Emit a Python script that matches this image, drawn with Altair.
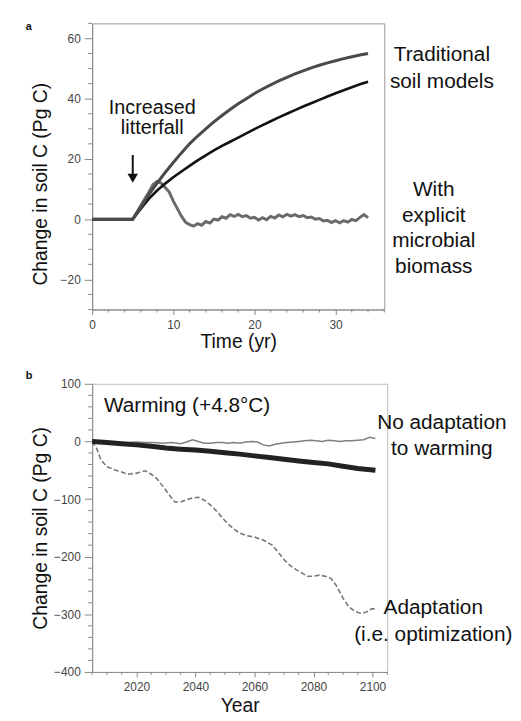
import altair as alt
import pandas as pd

FONT = "Liberation Sans"

# ---------------- Panel a data ----------------
t_trad = [0, 5, 6, 7, 8, 9, 10, 11, 12, 13, 14, 15, 16, 17, 18, 19, 20, 21, 22, 23, 24,
          25, 26, 27, 28, 29, 30, 31, 32, 33, 34]
trad_upper = [0, 0, 4.0, 8.2, 12.0, 15.5, 18.8, 22.0, 25.0, 27.6, 30.0, 32.3, 34.4, 36.4,
              38.3, 40.0, 41.7, 43.2, 44.6, 45.9, 47.1, 48.2, 49.2, 50.2, 51.1, 51.9, 52.6,
              53.3, 53.9, 54.5, 55.0]
trad_lower = [0, 0, 3.5, 6.8, 9.5, 11.8, 13.9, 15.8, 17.7, 19.5, 21.2, 22.8, 24.3, 25.7,
              27.1, 28.5, 29.9, 31.2, 32.5, 33.8, 35.0, 36.2, 37.4, 38.5, 39.6, 40.7, 41.8,
              42.8, 43.8, 44.8, 45.6]
t_mic = [0, 5, 6, 7, 7.5, 8, 8.5, 9, 9.5, 10, 10.5, 11, 11.5, 12, 12.5, 13, 13.5, 14, 14.5,
         15, 15.5, 16, 16.5, 17, 17.5, 18, 18.5, 19, 19.5, 20, 20.5, 21, 21.5, 22, 22.5, 23,
         23.5, 24, 24.5, 25, 25.5, 26, 26.5, 27, 27.5, 28, 28.5, 29, 29.5, 30, 30.5, 31, 31.5,
         32, 32.5, 33, 33.5, 34]
microbial = [0, 0, 4.5, 9.0, 11.5, 12.5, 12.0, 10.5, 9.0, 6.0, 3.5, 1.0, -1.0, -1.8, -2.3,
             -1.5, -2.0, -0.8, -1.3, 0.0, -0.3, 0.8, 0.3, 1.5, 0.9, 1.6, 0.8, 1.2, 0.3, 0.6,
             -0.3, 0.5, -0.2, 0.9, 0.4, 1.4, 0.8, 1.6, 1.0, 1.5, 0.8, 1.2, 0.5, 0.7, 0.0, 0.2,
             -0.6, -0.4, -1.1, -0.5, -1.2, -0.5, -1.0, -0.1, -0.5, 0.6, 1.5, 0.5]

a_x_major = [0, 10, 20, 30]
a_x_minor = [2, 4, 6, 8, 12, 14, 16, 18, 22, 24, 26, 28, 32, 34, 36]
a_y_major = [-20, 0, 20, 40, 60]
a_y_minor = [-30, -25, -15, -10, -5, 5, 10, 15, 25, 30, 35, 45, 50, 55, 65]

arrow_t = [5]
arrow_top = [21.3]
arrow_bottom = [15.0]
arrow_head = [13.6]

ann_a_text = ["Increased", "litterfall", "Traditional", "soil models",
              "With", "explicit", "microbial", "biomass"]
ann_a_x = [7.4, 7.4, 43.1, 43.1, 42.1, 42.1, 42.1, 42.1]
ann_a_y = [34.9, 28.3, 52.5, 43.6, 7.7, -0.8, -9.4, -18.0]
ann_a_size = [20, 20, 21, 21, 21, 21, 21, 21]

# ---------------- Panel b data ----------------
yr_adapt = [2005, 2006.5, 2008, 2010, 2013, 2015, 2017, 2020, 2023, 2025, 2027, 2029, 2031,
            2033, 2035, 2037, 2039, 2041, 2043, 2045, 2047, 2049, 2051, 2053, 2055, 2057,
            2060, 2063, 2066, 2068, 2070, 2072, 2074, 2076, 2078, 2080, 2082, 2084, 2086,
            2088, 2090, 2092, 2094, 2096, 2098, 2099.5, 2101]
adapt = [0, -12, -32, -44, -50, -53, -57, -55, -51, -57, -65, -78, -92, -105, -105, -101,
         -98, -97, -102, -110, -120, -132, -143, -152, -159, -163, -166, -171, -180, -192,
         -205, -215, -222, -228, -234, -234, -232, -234, -238, -252, -272, -287, -295, -298,
         -296, -291, -290]
yr_thin = [2005, 2008, 2011, 2014, 2017, 2020, 2023, 2026, 2029, 2032, 2035, 2037, 2039,
           2041, 2043, 2045, 2047, 2049, 2051, 2053, 2055, 2057, 2059, 2061, 2063, 2065,
           2067, 2069, 2071, 2073, 2075, 2077, 2079, 2081, 2083, 2085, 2087, 2089, 2091,
           2093, 2095, 2097, 2099, 2101]
no_adapt_thin = [0, -1, -1.5, -2, -2, -1, -2, -2, -3, -2, -4, -1, 3, 0, -3, -3, -2, -2, -3,
                 -2, -3, -1, 0, -1, -6, -8, -5, -3, -2, -1, 0, 1, 2, 1, 0, 2, 1, 0, 1, 1, 2,
                 3, 7, 5]
yr_thick = [2005, 2010, 2015, 2020, 2025, 2030, 2035, 2040, 2045, 2050, 2055, 2060, 2065,
            2070, 2075, 2080, 2085, 2090, 2095, 2101]
no_adapt_thick = [0, -2, -4, -6, -8.5, -11.5, -13.5, -15, -17, -19.5, -22, -25, -28, -31,
                  -34, -36.5, -39, -43, -47, -50]

b_x_major = [2020, 2040, 2060, 2080, 2100]
b_x_minor = [2005, 2010, 2015, 2025, 2030, 2035, 2045, 2050, 2055, 2065, 2070, 2075,
             2085, 2090, 2095, 2105]
b_y_major = [-400, -300, -200, -100, 0, 100]
b_y_minor = [-380, -360, -340, -320, -280, -260, -240, -220, -180, -160, -140, -120,
             -80, -60, -40, -20, 20, 40, 60, 80]

warm_text = ["Warming (+4.8°C)"]
warm_x = [2009.0]
warm_y = [51.5]
ann_b_text = ["No adaptation", "to warming", "Adaptation", "(i.e. optimization)"]
ann_b_x = [2123.5, 2123.5, 2120.6, 2120.6]
ann_b_y = [22, -24, -300.3, -346.7]

# ---------------- helpers ----------------
W_A, H_A = 295, 289
W_B, H_B = 298, 291
AXC = "#888"
LBC = "#444"


def y_axis(values, title, title_y):
    return alt.Axis(values=values, title=title, tickSize=8, tickColor=AXC, domainColor=AXC,
                    labelColor=LBC, labelFont=FONT, labelFontSize=12, labelPadding=4,
                    labelFlush=False, labelOverlap=False, grid=False,
                    titleFont=FONT, titleFontSize=19.5, titleFontWeight="normal",
                    titleColor="#111", titleX=-42, titleY=title_y)


def x_axis(values, title, title_y):
    return alt.Axis(values=values, title=title, tickSize=5, tickColor=AXC, domainColor=AXC,
                    labelColor=LBC, labelFont=FONT, labelFontSize=12, labelPadding=5,
                    labelFlush=False, labelOverlap=False, grid=False, format="d",
                    titleFont=FONT, titleFontSize=19.5, titleFontWeight="normal",
                    titleColor="#111", titleY=title_y)


# ---------------- Panel a ----------------
xa = alt.Scale(domain=[0, 36], nice=False, zero=False)
ya = alt.Scale(domain=[-30, 65], nice=False, zero=False)
AXA_X = x_axis(a_x_major, "Time (yr)", 23)
AXA_Y = y_axis(a_y_major, "Change in soil C (Pg C)", 162)


def XA(f):
    return alt.X(f, type="quantitative", scale=xa, axis=AXA_X)


def YA(f):
    return alt.Y(f, type="quantitative", scale=ya, axis=AXA_Y)


df_up = pd.DataFrame({"t": t_trad, "v": trad_upper})
df_lo = pd.DataFrame({"t": t_trad, "v": trad_lower})
df_mic = pd.DataFrame({"t": t_mic, "v": microbial})

mic_line = alt.Chart(df_mic).mark_line(color="#6b6b6b", strokeWidth=3).encode(
    x=XA("t"), y=YA("v"))
lo_line = alt.Chart(df_lo).mark_line(color="#111111", strokeWidth=2.6).encode(
    x=XA("t"), y=YA("v"))
up_line = alt.Chart(df_up).mark_line(color="#4a4a4a", strokeWidth=3).encode(
    x=XA("t"), y=YA("v"))

a_ymin = alt.Chart(pd.DataFrame({"v": a_y_minor})).mark_rule(color=AXC).encode(
    y=YA("v"), x=alt.value(-4), x2=alt.value(0))
a_xmin = alt.Chart(pd.DataFrame({"t": a_x_minor})).mark_rule(color=AXC).encode(
    x=XA("t"), y=alt.value(H_A), y2=alt.value(H_A + 3))

df_arrow = pd.DataFrame({"t": arrow_t, "v": arrow_top, "v2": arrow_bottom, "h": arrow_head})
arrow_shaft = alt.Chart(df_arrow).mark_rule(color="#111", strokeWidth=2).encode(
    x=XA("t"), y=YA("v"), y2="v2:Q")
arrow_tip = alt.Chart(df_arrow).mark_point(shape="triangle-down", filled=True, size=110,
                                           color="#111", opacity=1).encode(
    x=XA("t"), y=YA("h"))

ann_a = alt.Chart(pd.DataFrame({"t": ann_a_x, "v": ann_a_y, "s": ann_a_text,
                                "fs": ann_a_size})).mark_text(
    font=FONT, color="#111", align="center", baseline="alphabetic").encode(
    x=XA("t"), y=YA("v"), text="s:N",
    size=alt.Size("fs:Q", scale=None, legend=None))

lab_a = alt.Chart(pd.DataFrame({"s": ["a"]})).mark_text(
    font=FONT, fontSize=11, fontWeight="bold", color="#111", align="left",
    baseline="alphabetic").encode(x=alt.value(-67), y=alt.value(6.7), text="s:N")

panel_a = alt.layer(mic_line, lo_line, up_line, a_ymin, a_xmin, arrow_shaft, arrow_tip,
                    ann_a, lab_a).properties(
    width=W_A, height=H_A, view=alt.ViewBackground(stroke="#999", strokeWidth=1))

# ---------------- Panel b ----------------
xb = alt.Scale(domain=[2005, 2105], nice=False, zero=False)
yb = alt.Scale(domain=[-400, 100], nice=False, zero=False)
AXB_X = x_axis(b_x_major, "Year", 25)
AXB_Y = y_axis(b_y_major, "Change in soil C (Pg C)", 145.5)


def XB(f):
    return alt.X(f, type="quantitative", scale=xb, axis=AXB_X)


def YB(f):
    return alt.Y(f, type="quantitative", scale=yb, axis=AXB_Y)


df_ad = pd.DataFrame({"t": yr_adapt, "v": adapt})
df_thin = pd.DataFrame({"t": yr_thin, "v": no_adapt_thin})
df_thick = pd.DataFrame({"t": yr_thick, "v": no_adapt_thick})

ad_line = alt.Chart(df_ad).mark_line(color="#777", strokeWidth=1.6, strokeDash=[5, 2.5]).encode(
    x=XB("t"), y=YB("v"))
thin_line = alt.Chart(df_thin).mark_line(color="#808080", strokeWidth=1.5).encode(
    x=XB("t"), y=YB("v"))
thick_line = alt.Chart(df_thick).mark_line(color="#222", strokeWidth=5).encode(
    x=XB("t"), y=YB("v"))

b_ymin = alt.Chart(pd.DataFrame({"v": b_y_minor})).mark_rule(color=AXC).encode(
    y=YB("v"), x=alt.value(-4), x2=alt.value(0))
b_xmin = alt.Chart(pd.DataFrame({"t": b_x_minor})).mark_rule(color=AXC).encode(
    x=XB("t"), y=alt.value(H_B), y2=alt.value(H_B + 3))

warm = alt.Chart(pd.DataFrame({"t": warm_x, "v": warm_y, "s": warm_text})).mark_text(
    font=FONT, fontSize=21, color="#111", align="left", baseline="alphabetic").encode(
    x=XB("t"), y=YB("v"), text="s:N")
ann_b = alt.Chart(pd.DataFrame({"t": ann_b_x, "v": ann_b_y, "s": ann_b_text})).mark_text(
    font=FONT, fontSize=21, color="#111", align="center", baseline="alphabetic").encode(
    x=XB("t"), y=YB("v"), text="s:N")

lab_b = alt.Chart(pd.DataFrame({"s": ["b"]})).mark_text(
    font=FONT, fontSize=11, fontWeight="bold", color="#111", align="left",
    baseline="alphabetic").encode(x=alt.value(-67), y=alt.value(-4.7), text="s:N")

panel_b = alt.layer(ad_line, thin_line, thick_line, b_ymin, b_xmin, warm, ann_b,
                    lab_b).properties(
    width=W_B, height=H_B, view=alt.ViewBackground(stroke="#bbb", strokeWidth=1))

chart = alt.vconcat(panel_a, panel_b, spacing=18).properties(
    padding={"left": 17, "top": 9, "right": 0, "bottom": 0},
    background="white",
).configure(font=FONT)

chart.save("out.html", embed_options={"renderer": "svg", "actions": False})
